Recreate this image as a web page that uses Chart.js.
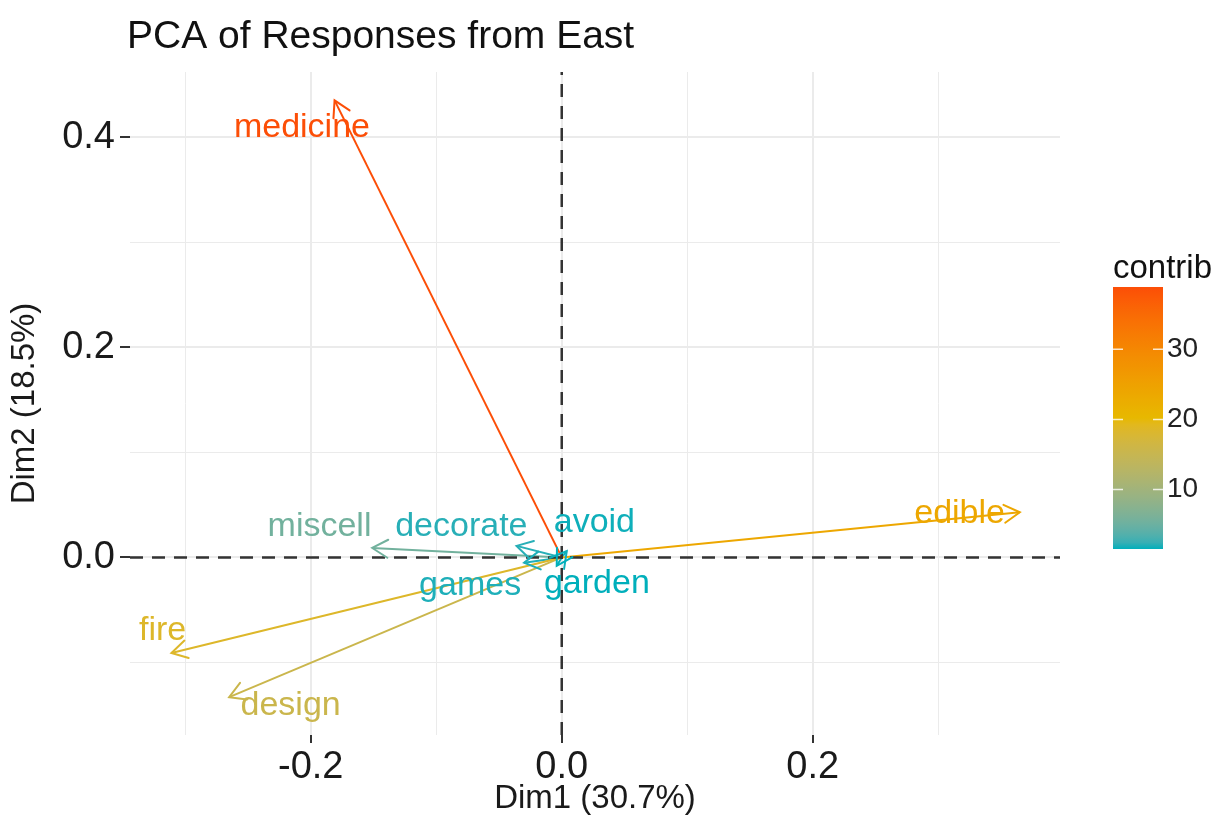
<!DOCTYPE html>
<html>
<head>
<meta charset="utf-8">
<script src="https://cdn.jsdelivr.net/npm/chart.js@4/dist/chart.umd.min.js"></script>
<style>
  html, body { margin: 0; padding: 0; background: #fff; }
</style>
</head>
<body>
<canvas id="myChart" width="1216" height="819"></canvas>
<script>
// variable loadings
var variables = ['medicine', 'edible', 'fire', 'design', 'miscell', 'decorate', 'avoid', 'games', 'garden'];
var dim1    = [-0.181, 0.365, -0.311, -0.265, -0.151, -0.036, 0.004, -0.030, -0.004];
var dim2    = [ 0.435, 0.043, -0.091, -0.133,  0.009,  0.011, 0.006, -0.005, -0.008];
var contrib = [ 38.9,  23.7,  18.5,  15.5,   5.5,    2.0,   1.6,   1.8,    1.5];
// where the (repelled) labels sit
var labelX  = [-0.207, 0.317, -0.318, -0.216, -0.193, -0.080, 0.026, -0.073, 0.028];
var labelY  = [ 0.409, 0.042, -0.070, -0.141,  0.029,  0.029, 0.033, -0.027, -0.025];

var xLabelled = [-0.2, 0.0, 0.2];
var yLabelled = [0.0, 0.2, 0.4];
var legendTicks = [10, 20, 30];
var gradientCols = ['#00AFBB', '#E7B800', '#FC4E07'];

var xRange = [-0.344, 0.397];
var yRange = [-0.169, 0.462];

var FONT = '"Liberation Sans", Arial, Helvetica, sans-serif';

// --- colour ramp in Lab, like ggplot ---
function hexToRgb(h) {
  return [parseInt(h.substr(1, 2), 16), parseInt(h.substr(3, 2), 16), parseInt(h.substr(5, 2), 16)];
}
function rgbToLab(c) {
  var rgb = c.map(function (v) {
    v = v / 255;
    return v > 0.04045 ? Math.pow((v + 0.055) / 1.055, 2.4) : v / 12.92;
  });
  var x = (rgb[0] * 0.4124 + rgb[1] * 0.3576 + rgb[2] * 0.1805) / 0.95047;
  var y = (rgb[0] * 0.2126 + rgb[1] * 0.7152 + rgb[2] * 0.0722);
  var z = (rgb[0] * 0.0193 + rgb[1] * 0.1192 + rgb[2] * 0.9505) / 1.08883;
  function f(t) { return t > 0.008856 ? Math.cbrt(t) : 7.787 * t + 16 / 116; }
  return [116 * f(y) - 16, 500 * (f(x) - f(y)), 200 * (f(y) - f(z))];
}
function labToRgb(l) {
  var fy = (l[0] + 16) / 116, fx = fy + l[1] / 500, fz = fy - l[2] / 200;
  function g(t) { return t * t * t > 0.008856 ? t * t * t : (t - 16 / 116) / 7.787; }
  var x = g(fx) * 0.95047, y = g(fy), z = g(fz) * 1.08883;
  var r = x * 3.2406 + y * -1.5372 + z * -0.4986;
  var gg = x * -0.9689 + y * 1.8758 + z * 0.0415;
  var b = x * 0.0557 + y * -0.2040 + z * 1.0570;
  return [r, gg, b].map(function (v) {
    v = v > 0.0031308 ? 1.055 * Math.pow(v, 1 / 2.4) - 0.055 : 12.92 * v;
    return Math.max(0, Math.min(255, Math.round(v * 255)));
  });
}
var labStops = gradientCols.map(function (h) { return rgbToLab(hexToRgb(h)); });
var cMin = Math.min.apply(null, contrib);
var cMax = Math.max.apply(null, contrib);
function contribColor(v) {
  var t = (v - cMin) / (cMax - cMin);
  t = Math.max(0, Math.min(1, t)) * (labStops.length - 1);
  var i = Math.min(Math.floor(t), labStops.length - 2);
  var f = t - i;
  var a = labStops[i], b = labStops[i + 1];
  var c = labToRgb([a[0] + (b[0] - a[0]) * f, a[1] + (b[1] - a[1]) * f, a[2] + (b[2] - a[2]) * f]);
  return 'rgb(' + c[0] + ',' + c[1] + ',' + c[2] + ')';
}

// --- datasets ---
var datasets = [];
datasets.push({
  data: [{ x: xRange[0], y: 0 }, { x: xRange[1], y: 0 }],
  borderColor: '#333333', borderWidth: 2.5, borderDash: [13, 9],
  pointRadius: 0, showLine: true, order: 0
});
datasets.push({
  data: [{ x: 0, y: yRange[0] }, { x: 0, y: yRange[1] }],
  borderColor: '#333333', borderWidth: 2.5, borderDash: [13, 9],
  pointRadius: 0, showLine: true, order: 0
});
for (var i = 0; i < variables.length; i++) {
  datasets.push({
    label: variables[i],
    data: [{ x: 0, y: 0 }, { x: dim1[i], y: dim2[i] }],
    borderColor: contribColor(contrib[i]),
    borderWidth: 2,
    pointRadius: 0,
    showLine: true,
    isArrow: true,
    order: 1
  });
}

// arrowheads + labels
var arrowPlugin = {
  id: 'arrows',
  afterDatasetsDraw: function (chart) {
    var ctx = chart.ctx;
    var xs = chart.scales.x, ys = chart.scales.y;
    ctx.save();
    chart.data.datasets.forEach(function (ds, di) {
      if (!ds.isArrow) return;
      var pts = chart.getDatasetMeta(di).data;
      var x0 = pts[0].x, y0 = pts[0].y, x1 = pts[1].x, y1 = pts[1].y;
      var ang = Math.atan2(y1 - y0, x1 - x0);
      var len = 18, spread = Math.PI / 6;
      ctx.strokeStyle = ds.borderColor;
      ctx.lineWidth = 2;
      ctx.lineCap = 'round';
      ctx.beginPath();
      ctx.moveTo(x1 - len * Math.cos(ang - spread), y1 - len * Math.sin(ang - spread));
      ctx.lineTo(x1, y1);
      ctx.lineTo(x1 - len * Math.cos(ang + spread), y1 - len * Math.sin(ang + spread));
      ctx.stroke();
    });
    ctx.font = '34px ' + FONT;
    ctx.textAlign = 'center';
    ctx.textBaseline = 'middle';
    for (var k = 0; k < variables.length; k++) {
      ctx.fillStyle = contribColor(contrib[k]);
      ctx.fillText(variables[k], xs.getPixelForValue(labelX[k]), ys.getPixelForValue(labelY[k]));
    }
    ctx.restore();
  }
};

// title + colour bar legend
var extrasPlugin = {
  id: 'extras',
  afterDraw: function (chart) {
    var ctx = chart.ctx;
    ctx.save();
    ctx.fillStyle = '#111';
    ctx.font = '39px ' + FONT;
    ctx.textAlign = 'left';
    ctx.textBaseline = 'alphabetic';
    ctx.fillText('PCA of Responses from East', chart.chartArea.left - 3, 48);

    var bx = 1113, bw = 50, top = 287, bottom = 549;
    var grad = ctx.createLinearGradient(0, bottom, 0, top);
    for (var s = 0; s <= 40; s++) {
      grad.addColorStop(s / 40, contribColor(cMin + (cMax - cMin) * s / 40));
    }
    ctx.fillStyle = grad;
    ctx.fillRect(bx, top, bw, bottom - top);

    ctx.fillStyle = '#111';
    ctx.font = '33px ' + FONT;
    ctx.textBaseline = 'alphabetic';
    ctx.fillText('contrib', 1113, 278);

    ctx.font = '28px ' + FONT;
    ctx.textBaseline = 'middle';
    legendTicks.forEach(function (v) {
      var y = bottom - (v - cMin) / (cMax - cMin) * (bottom - top);
      ctx.strokeStyle = 'rgba(255,255,255,0.8)';
      ctx.lineWidth = 1.5;
      ctx.beginPath();
      ctx.moveTo(bx, y); ctx.lineTo(bx + 10, y);
      ctx.moveTo(bx + bw - 10, y); ctx.lineTo(bx + bw, y);
      ctx.stroke();
      ctx.fillStyle = '#222';
      ctx.fillText(String(v), bx + bw + 4, y);
    });
    ctx.restore();
  }
};

function isLabelled(list, v) {
  return list.some(function (t) { return Math.abs(t - v) < 1e-6; });
}

var ctx = document.getElementById('myChart').getContext('2d');
new Chart(ctx, {
  type: 'scatter',
  data: { datasets: datasets },
  options: {
    responsive: false,
    animation: false,
    devicePixelRatio: 1,
    layout: { padding: { top: 72, right: 156, left: 0, bottom: 0 } },
    plugins: { legend: { display: false }, tooltip: { enabled: false } },
    scales: {
      x: {
        type: 'linear', min: xRange[0], max: xRange[1],
        afterFit: function (s) { s.height = 84; },
        border: { display: false },
        grid: {
          color: '#EBEBEB',
          lineWidth: function (c) { return isLabelled(xLabelled, c.tick.value) ? 2 : 1; },
          tickColor: function (c) { return isLabelled(xLabelled, c.tick.value) ? '#333' : 'rgba(0,0,0,0)'; },
          tickLength: 8, tickWidth: 2
        },
        ticks: {
          stepSize: 0.1, includeBounds: false, maxRotation: 0, autoSkip: false,
          color: '#1a1a1a', font: { size: 38, family: FONT }, padding: 2,
          callback: function (v) { return isLabelled(xLabelled, v) ? v.toFixed(1) : ''; }
        },
        title: { display: true, text: 'Dim1 (30.7%)', color: '#1a1a1a', font: { size: 33, family: FONT }, padding: { top: 0, bottom: 0 } }
      },
      y: {
        type: 'linear', min: yRange[0], max: yRange[1],
        afterFit: function (s) { s.width = 130; },
        border: { display: false },
        grid: {
          color: '#EBEBEB',
          lineWidth: function (c) { return isLabelled(yLabelled, c.tick.value) ? 2 : 1; },
          tickColor: function (c) { return isLabelled(yLabelled, c.tick.value) ? '#333' : 'rgba(0,0,0,0)'; },
          tickLength: 10, tickWidth: 2
        },
        ticks: {
          stepSize: 0.1, includeBounds: false, autoSkip: false,
          color: '#1a1a1a', font: { size: 38, family: FONT }, padding: 5,
          callback: function (v) { return isLabelled(yLabelled, v) ? v.toFixed(1) : ''; }
        },
        title: { display: true, text: 'Dim2 (18.5%)', color: '#1a1a1a', font: { size: 33, family: FONT }, padding: { top: 5, bottom: 0 } }
      }
    }
  },
  plugins: [arrowPlugin, extrasPlugin]
});
</script>
</body>
</html>
